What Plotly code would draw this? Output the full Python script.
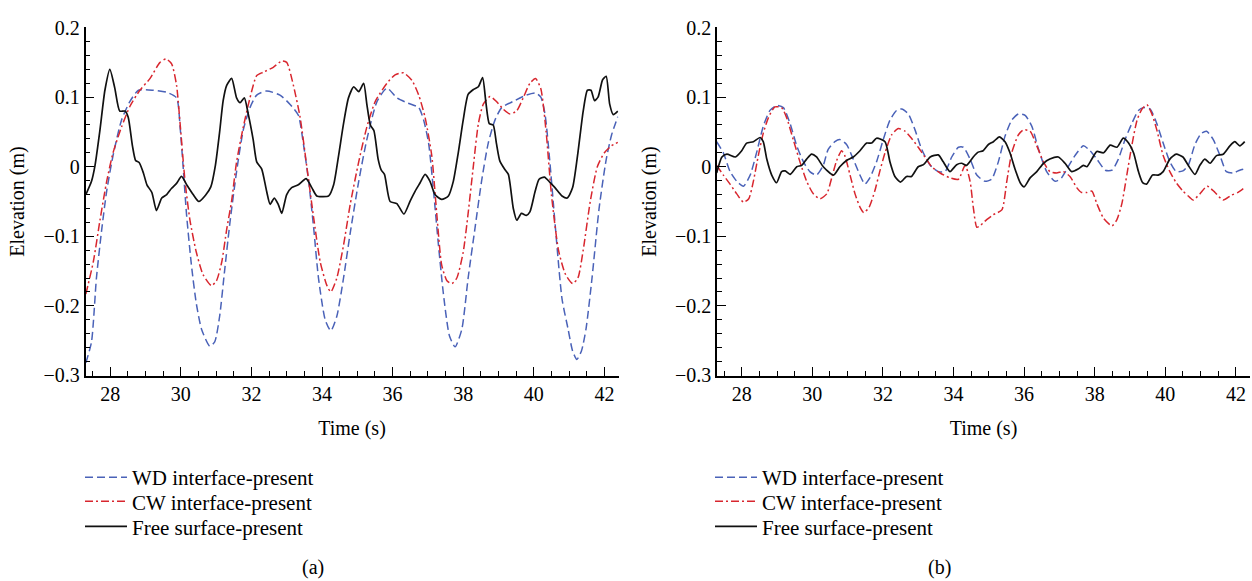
import plotly.graph_objects as go

# ---------------- Panel (a) data ----------------
a_wd_t = [27.31, 27.47, 27.61, 27.76, 27.90, 28.08, 28.32, 28.56, 28.80, 29.22, 29.60, 29.88, 29.98, 30.07,
          30.16, 30.30, 30.44, 30.59, 30.82, 30.96, 31.10, 31.24, 31.39, 31.58, 31.77, 31.96, 32.15, 32.43,
          32.81, 33.09, 33.33, 33.47, 33.62, 33.76, 33.90, 34.09, 34.25, 34.42, 34.61, 34.80, 35.04, 35.27,
          35.56, 35.84, 36.12, 36.41, 36.74, 36.88, 37.02, 37.16, 37.30, 37.44, 37.61, 37.77, 37.96, 38.14,
          38.33, 38.52, 38.71, 38.90, 39.09, 39.42, 39.79, 40.05, 40.20, 40.32, 40.45, 40.60, 40.80, 40.97,
          41.10, 41.22, 41.35, 41.48, 41.65, 41.85, 42.05, 42.20, 42.38]
a_wd_v = [-0.282, -0.252, -0.160, -0.090, -0.035, 0.016, 0.067, 0.094, 0.110, 0.110, 0.107, 0.099, 0.057, -0.003,
          -0.067, -0.141, -0.197, -0.234, -0.258, -0.252, -0.215, -0.150, -0.081, -0.007, 0.053, 0.085, 0.103, 0.109,
          0.103, 0.090, 0.074, 0.034, -0.020, -0.086, -0.160, -0.220, -0.236, -0.215, -0.160, -0.095, -0.021, 0.039,
          0.094, 0.113, 0.099, 0.092, 0.085, 0.067, 0.034, -0.035, -0.113, -0.183, -0.243, -0.259, -0.234, -0.160,
          -0.090, -0.021, 0.034, 0.067, 0.085, 0.094, 0.103, 0.106, 0.100, 0.075, 0.010, -0.080, -0.190, -0.233,
          -0.265, -0.277, -0.265, -0.233, -0.160, -0.060, 0.010, 0.045, 0.072]

a_cw_t = [27.31, 27.52, 27.71, 27.90, 28.08, 28.32, 28.56, 28.84, 29.13, 29.41, 29.58, 29.74, 29.88, 29.98,
          30.12, 30.26, 30.44, 30.63, 30.87, 31.01, 31.16, 31.30, 31.44, 31.58, 31.77, 31.96, 32.15, 32.34,
          32.62, 32.86, 33.00, 33.19, 33.38, 33.57, 33.76, 33.95, 34.14, 34.25, 34.42, 34.61, 34.80, 35.04,
          35.27, 35.51, 35.84, 36.07, 36.31, 36.55, 36.74, 36.92, 37.11, 37.25, 37.39, 37.54, 37.68, 37.82,
          38.00, 38.14, 38.29, 38.43, 38.57, 38.76, 38.94, 39.13, 39.32, 39.51, 39.70, 39.89, 40.05, 40.20,
          40.35, 40.50, 40.70, 40.90, 41.10, 41.25, 41.40, 41.60, 41.80, 42.00, 42.20, 42.38]
a_cw_v = [-0.183, -0.137, -0.077, -0.021, 0.020, 0.057, 0.087, 0.110, 0.127, 0.150, 0.155, 0.148, 0.117, 0.062,
          -0.021, -0.077, -0.123, -0.155, -0.171, -0.164, -0.137, -0.090, -0.049, 0.007, 0.057, 0.099, 0.131, 0.136,
          0.143, 0.152, 0.150, 0.117, 0.071, 0.000, -0.072, -0.137, -0.171, -0.180, -0.160, -0.113, -0.054, 0.007,
          0.057, 0.094, 0.120, 0.132, 0.135, 0.124, 0.103, 0.071, 0.016, -0.067, -0.141, -0.164, -0.168, -0.160,
          -0.123, -0.067, 0.002, 0.062, 0.090, 0.101, 0.094, 0.083, 0.076, 0.080, 0.099, 0.120, 0.127, 0.112,
          0.050, -0.040, -0.120, -0.155, -0.168, -0.160, -0.120, -0.050, 0.000, 0.020, 0.030, 0.035]

a_fs_t = [27.31, 27.47, 27.57, 27.71, 27.85, 27.99, 28.13, 28.27, 28.42, 28.51, 28.63, 28.72, 28.82, 28.94,
          29.04, 29.18, 29.31, 29.46, 29.60, 29.74, 29.88, 30.02, 30.18, 30.35, 30.51, 30.70, 30.85, 30.98,
          31.10, 31.20, 31.30, 31.44, 31.58, 31.68, 31.80, 31.91, 32.05, 32.15, 32.29, 32.43, 32.53, 32.65,
          32.76, 32.86, 33.00, 33.14, 33.33, 33.55, 33.71, 33.85, 34.00, 34.19, 34.33, 34.47, 34.61, 34.75,
          34.90, 35.04, 35.18, 35.27, 35.37, 35.47, 35.59, 35.68, 35.77, 35.93, 36.12, 36.32, 36.50, 36.64,
          36.78, 36.92, 37.06, 37.20, 37.39, 37.58, 37.72, 37.86, 38.00, 38.14, 38.29, 38.43, 38.55, 38.64,
          38.74, 38.85, 38.94, 39.04, 39.18, 39.28, 39.42, 39.52, 39.65, 39.79, 39.89, 40.04, 40.15, 40.30,
          40.45, 40.60, 40.80, 40.95, 41.10, 41.25, 41.40, 41.52, 41.62, 41.72, 41.82, 41.95, 42.05, 42.15,
          42.25, 42.38]
a_fs_v = [-0.040, -0.021, 0.002, 0.053, 0.110, 0.140, 0.113, 0.080, 0.080, 0.071, 0.030, 0.009, 0.006, -0.009,
          -0.026, -0.037, -0.063, -0.045, -0.040, -0.031, -0.024, -0.014, -0.027, -0.040, -0.050, -0.041, -0.029, 0.002,
          0.050, 0.095, 0.117, 0.127, 0.099, 0.092, 0.099, 0.076, 0.039, 0.007, -0.003, -0.035, -0.054, -0.045,
          -0.054, -0.067, -0.040, -0.030, -0.026, -0.017, -0.030, -0.042, -0.043, -0.042, -0.026, 0.016, 0.062, 0.099,
          0.115, 0.108, 0.120, 0.090, 0.060, 0.052, 0.011, -0.005, -0.011, -0.050, -0.053, -0.068, -0.049, -0.035,
          -0.023, -0.011, -0.021, -0.040, -0.047, -0.042, -0.021, 0.020, 0.067, 0.104, 0.111, 0.115, 0.128, 0.094,
          0.062, 0.060, 0.034, 0.008, -0.004, -0.011, -0.060, -0.077, -0.067, -0.070, -0.065, -0.035, -0.018, -0.015,
          -0.022, -0.030, -0.042, -0.045, -0.030, 0.020, 0.080, 0.110, 0.110, 0.095, 0.100, 0.125, 0.130, 0.090,
          0.075, 0.080]

# ---------------- Panel (b) data ----------------
b_wd_t = [27.29, 27.48, 27.67, 27.86, 28.05, 28.24, 28.42, 28.61, 28.80, 28.99, 29.18, 29.37, 29.56, 29.75,
          29.93, 30.12, 30.31, 30.45, 30.64, 30.78, 30.97, 31.16, 31.35, 31.49, 31.63, 31.82, 32.01, 32.20,
          32.39, 32.53, 32.72, 32.91, 33.10, 33.34, 33.57, 33.76, 33.95, 34.14, 34.28, 34.47, 34.66, 34.89,
          35.08, 35.27, 35.46, 35.65, 35.84, 36.03, 36.22, 36.41, 36.64, 36.88, 37.06, 37.25, 37.44, 37.68,
          37.87, 38.06, 38.30, 38.49, 38.67, 38.86, 39.05, 39.24, 39.38, 39.57, 39.76, 39.94, 40.13, 40.31,
          40.50, 40.65, 40.84, 41.02, 41.17, 41.36, 41.55, 41.73, 41.92, 42.11, 42.25]
b_wd_v = [0.036, 0.020, -0.007, -0.021, -0.028, -0.012, 0.020, 0.058, 0.081, 0.088, 0.085, 0.062, 0.030, 0.007,
          -0.007, -0.012, 0.002, 0.025, 0.036, 0.039, 0.032, 0.011, -0.012, -0.025, -0.016, 0.007, 0.039, 0.067,
          0.081, 0.083, 0.076, 0.053, 0.025, 0.002, -0.007, -0.007, 0.014, 0.028, 0.028, 0.011, -0.012, -0.021,
          -0.018, 0.007, 0.044, 0.067, 0.076, 0.074, 0.058, 0.025, -0.007, -0.021, -0.016, 0.000, 0.016, 0.030,
          0.023, 0.011, -0.005, -0.005, 0.011, 0.039, 0.062, 0.081, 0.085, 0.083, 0.062, 0.034, 0.007, -0.007,
          -0.006, 0.002, 0.032, 0.048, 0.051, 0.039, 0.016, -0.007, -0.009, -0.005, -0.003]

b_cw_t = [27.29, 27.48, 27.67, 27.86, 28.05, 28.20, 28.33, 28.47, 28.61, 28.76, 28.94, 29.13, 29.27, 29.46,
          29.65, 29.84, 30.03, 30.22, 30.41, 30.55, 30.69, 30.83, 30.92, 31.07, 31.21, 31.35, 31.46, 31.61,
          31.77, 31.91, 32.06, 32.25, 32.44, 32.63, 32.81, 33.00, 33.19, 33.38, 33.62, 33.90, 34.14, 34.33,
          34.47, 34.56, 34.66, 34.75, 34.94, 35.13, 35.37, 35.51, 35.65, 35.84, 35.98, 36.17, 36.36, 36.55,
          36.73, 36.92, 37.11, 37.30, 37.49, 37.63, 37.78, 37.92, 38.06, 38.25, 38.49, 38.63, 38.77, 38.91,
          39.05, 39.20, 39.34, 39.48, 39.62, 39.76, 39.94, 40.13, 40.31, 40.50, 40.69, 40.79, 40.98, 41.19,
          41.41, 41.64, 41.87, 42.06, 42.25]
b_cw_v = [0.002, -0.012, -0.025, -0.039, -0.051, -0.046, -0.021, 0.016, 0.048, 0.071, 0.086, 0.085, 0.071, 0.039,
          0.007, -0.021, -0.039, -0.046, -0.039, -0.016, 0.009, 0.023, 0.016, -0.012, -0.039, -0.058, -0.066, -0.058,
          -0.035, -0.007, 0.020, 0.046, 0.055, 0.051, 0.041, 0.028, 0.014, 0.000, -0.009, -0.016, -0.018, 0.002,
          -0.021, -0.058, -0.087, -0.085, -0.076, -0.069, -0.062, -0.021, 0.020, 0.046, 0.053, 0.051, 0.030, 0.007,
          -0.007, -0.009, -0.007, -0.014, -0.030, -0.037, -0.037, -0.035, -0.053, -0.074, -0.085, -0.076, -0.053, -0.012,
          0.030, 0.067, 0.083, 0.089, 0.076, 0.053, 0.016, -0.007, -0.023, -0.035, -0.044, -0.048, -0.039, -0.028,
          -0.037, -0.048, -0.041, -0.037, -0.030]

b_fs_t = [27.29, 27.44, 27.58, 27.82, 28.00, 28.14, 28.33, 28.52, 28.61, 28.71, 28.85, 28.99, 29.13, 29.23,
          29.37, 29.56, 29.70, 29.84, 29.98, 30.12, 30.31, 30.60, 30.78, 30.97, 31.16, 31.35, 31.54, 31.68,
          31.82, 32.06, 32.20, 32.34, 32.50, 32.67, 32.81, 33.00, 33.15, 33.34, 33.57, 33.71, 33.90, 34.09,
          34.23, 34.37, 34.56, 34.70, 34.84, 34.99, 35.13, 35.30, 35.46, 35.60, 35.74, 35.89, 36.00, 36.17,
          36.36, 36.55, 36.73, 36.97, 37.16, 37.35, 37.54, 37.68, 37.78, 37.92, 38.06, 38.25, 38.44, 38.63,
          38.81, 38.96, 39.10, 39.24, 39.36, 39.47, 39.64, 39.80, 39.94, 40.13, 40.31, 40.50, 40.65, 40.84,
          40.98, 41.12, 41.27, 41.45, 41.64, 41.83, 41.97, 42.11, 42.25]
b_fs_v = [-0.009, 0.014, 0.018, 0.014, 0.023, 0.034, 0.036, 0.042, 0.036, 0.011, -0.012, -0.023, -0.007, -0.006,
          -0.011, 0.000, 0.002, 0.011, 0.018, 0.014, 0.000, -0.012, 0.000, 0.009, 0.014, 0.023, 0.034, 0.034,
          0.041, 0.036, 0.007, -0.014, -0.022, -0.014, -0.014, 0.000, 0.003, 0.014, 0.017, 0.007, -0.007, 0.003,
          0.005, 0.002, 0.014, 0.021, 0.023, 0.032, 0.036, 0.043, 0.036, 0.020, -0.003, -0.023, -0.029, -0.016,
          -0.007, 0.005, 0.011, 0.014, 0.005, -0.007, -0.003, 0.002, 0.000, 0.011, 0.022, 0.020, 0.031, 0.028,
          0.041, 0.034, 0.020, -0.007, -0.023, -0.025, -0.012, -0.012, -0.007, 0.011, 0.018, 0.014, 0.002, -0.011,
          0.002, 0.011, 0.005, 0.016, 0.018, 0.030, 0.036, 0.030, 0.036]

series_names = ["WD interface-present", "CW interface-present", "Free surface-present"]
x_ticks = [28, 30, 32, 34, 36, 38, 40, 42]

BLUE = "#4a62b8"
RED = "#d8262e"
BLACK = "#111111"
FONT = "Liberation Serif, Times New Roman, serif"
W, H = 1252, 581

fig = go.Figure()

panels = [
    ("x", "y", ["legend", "legend2", "legend3"], [(a_wd_t, a_wd_v), (a_cw_t, a_cw_v), (a_fs_t, a_fs_v)]),
    ("x2", "y2", ["legend4", "legend5", "legend6"], [(b_wd_t, b_wd_v), (b_cw_t, b_cw_v), (b_fs_t, b_fs_v)]),
]
styles = [
    dict(color=BLUE, width=1.5, dash="8px,4px"),
    dict(color=RED, width=1.5, dash="8px,3px,2px,3px"),
    dict(color=BLACK, width=1.7, dash="solid"),
]
for xa, ya, lgs, data in panels:
    for (t, v), name, st, lg in zip(data, series_names, styles, lgs):
        fig.add_trace(go.Scatter(x=t, y=v, mode="lines", name=name, line=st,
                                 line_shape="spline", line_smoothing=0.6, showlegend=True,
                                 xaxis=xa, yaxis=ya, legend=lg))

xcommon = dict(range=[27.3, 42.4], tickmode="array", tickvals=x_ticks,
               ticks="inside", ticklen=9, tickwidth=1.2, tickcolor="black",
               minor=dict(dtick=0.5, ticks="inside", ticklen=5, tickwidth=1.2, tickcolor="black"),
               showline=True, linecolor="black", linewidth=1.5, showgrid=False, zeroline=False,
               tickfont=dict(family=FONT, size=20, color="black"),
               title=dict(text="Time (s)", font=dict(family=FONT, size=20, color="black"), standoff=17))
ycommon = dict(range=[-0.3004, 0.2004], tick0=0, dtick=0.1, tickmode="linear",
               ticks="inside", ticklen=9, tickwidth=1.2, tickcolor="black",
               minor=dict(dtick=0.02, ticks="inside", ticklen=5, tickwidth=1.2, tickcolor="black"),
               showline=True, linecolor="black", linewidth=1.5, showgrid=False, zeroline=False,
               tickfont=dict(family=FONT, size=20, color="black"),
               title=dict(text="Elevation (m)", font=dict(family=FONT, size=20, color="black"), standoff=13))

ydom = [1 - 379 / H, 1 - 17 / H]
layout = dict(
    width=W, height=H, margin=dict(l=0, r=0, t=0, b=0),
    paper_bgcolor="white", plot_bgcolor="white", showlegend=True,
    font=dict(family=FONT, color="black"),
    xaxis=dict(domain=[85.5 / W, 618.5 / W], anchor="y", **xcommon),
    yaxis=dict(domain=ydom, anchor="x", **ycommon),
    xaxis2=dict(domain=[717 / W, 1250 / W], anchor="y2", **xcommon),
    yaxis2=dict(domain=ydom, anchor="x2", **ycommon),
    annotations=[
        dict(text="(a)", x=0.25, y=1 - 578 / H, xref="paper", yref="paper", showarrow=False,
             xanchor="center", yanchor="middle", font=dict(family=FONT, size=20, color="black")),
        dict(text="(b)", x=0.75, y=1 - 578 / H, xref="paper", yref="paper", showarrow=False,
             xanchor="center", yanchor="middle", font=dict(family=FONT, size=20, color="black")),
    ],
)
row_y = [485, 510, 536]
legend_x = [80, 710]
names = ["legend", "legend2", "legend3", "legend4", "legend5", "legend6"]
k = 0
for lx in legend_x:
    for ry in row_y:
        layout[names[k]] = dict(x=lx / W, y=1 - ry / H, xanchor="left", yanchor="middle",
                                font=dict(family=FONT, size=21, color="black"),
                                bgcolor="rgba(0,0,0,0)", itemwidth=42, tracegroupgap=0, visible=True)
        k += 1
fig.update_layout(**layout)

fig.write_html("out.html")
